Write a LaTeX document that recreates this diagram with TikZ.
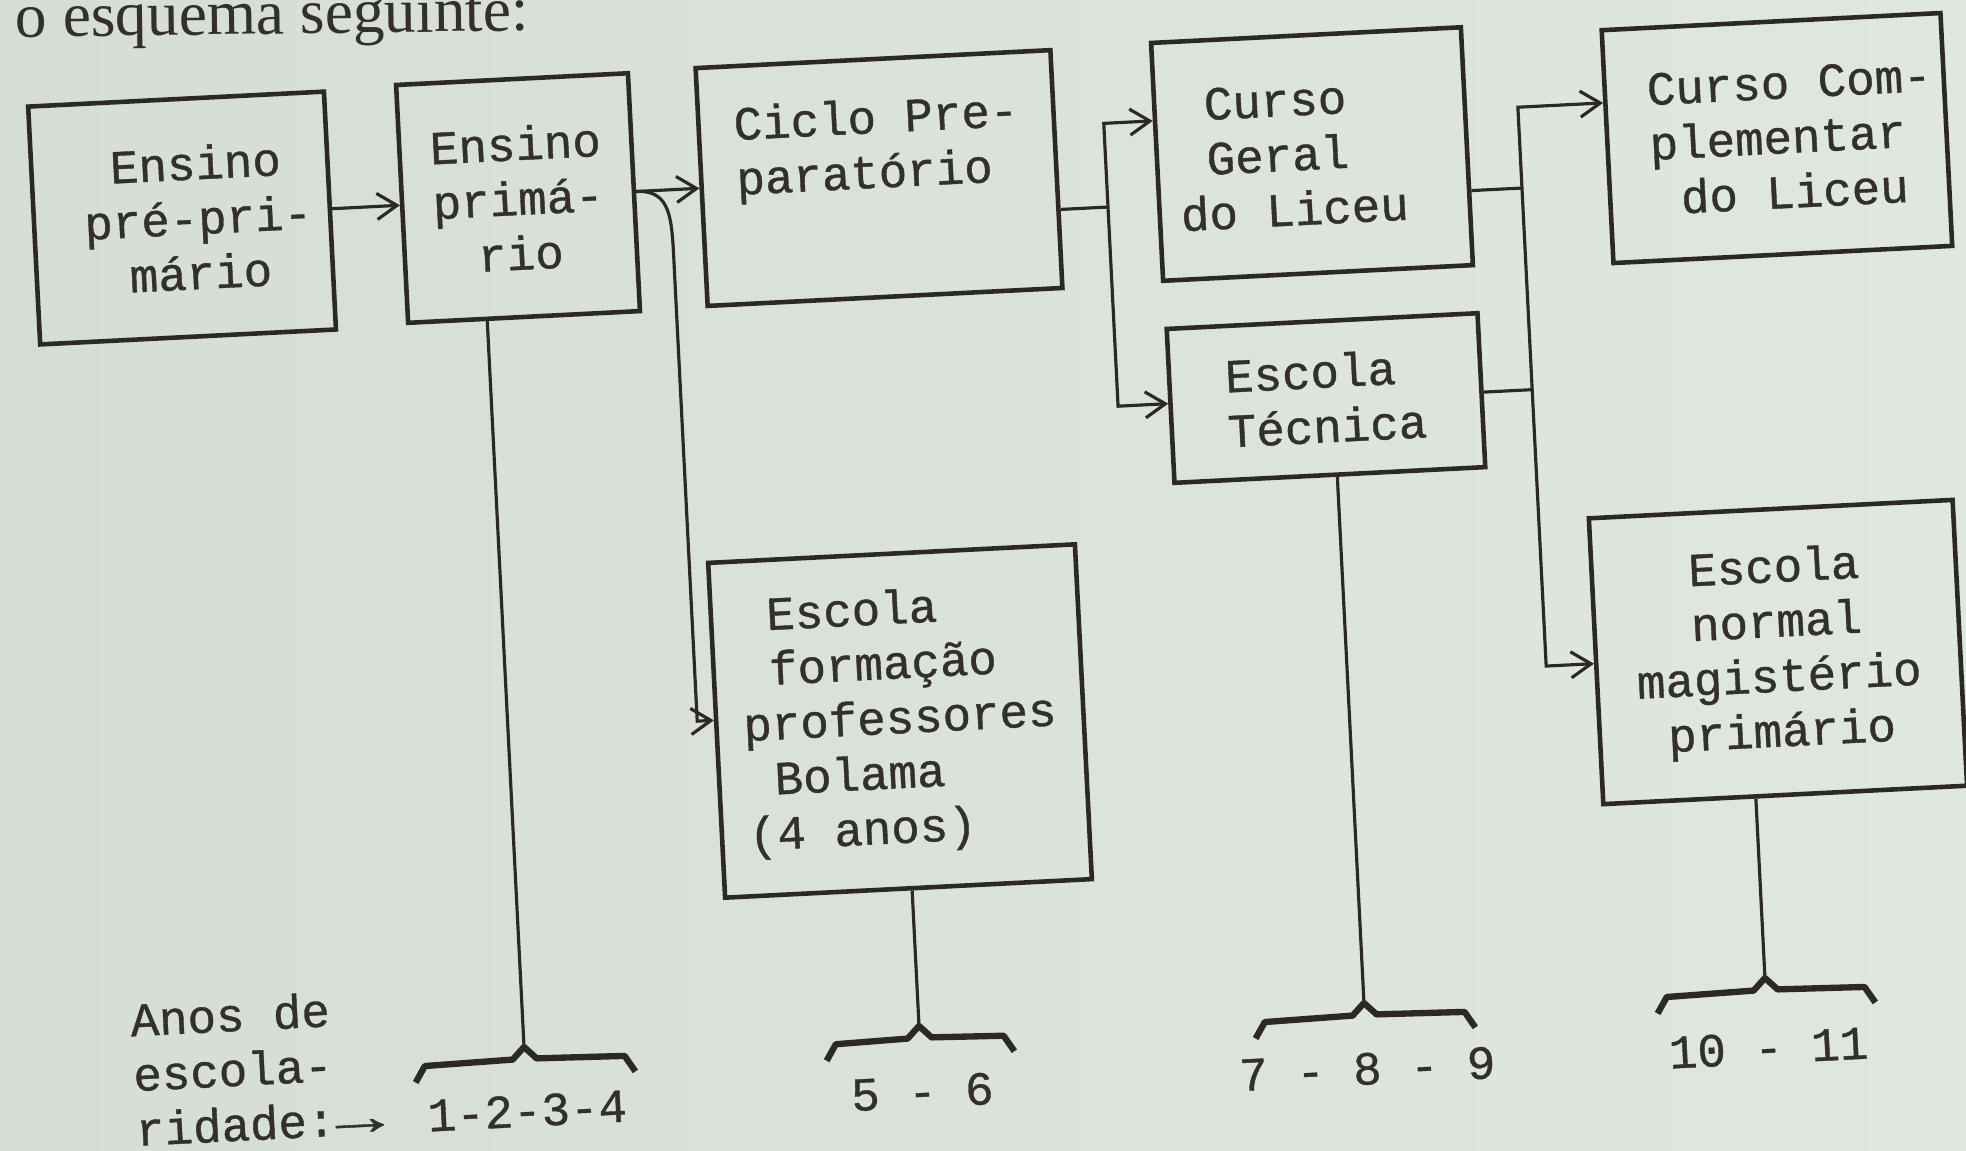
\documentclass[tikz,border=0pt]{standalone}
\usepackage{fontspec}
\newfontfamily\tw[FakeBold=0.8]{Liberation Mono}
\newfontfamily\bookserif{Liberation Serif}
\usetikzlibrary{calc,arrows.meta}
\definecolor{paperL}{HTML}{D5DDD4}
\definecolor{paperR}{HTML}{DFE7DF}
\definecolor{ink}{HTML}{2C2827}
\definecolor{inkt}{HTML}{332F2E}
\newcommand\dr[3]{\coordinate (#1) at ($(C)!1!-2.9:(#2,#3)$);}
\newcommand\brc[2]{\draw[brcstyle] ($(#1)+(-#2,30)$) -- ($(#1)+(-#2+10,14)$) -- ($(#1)+(-12,12)$) -- (#1) -- ($(#1)+(12,12)$) -- ($(#1)+(#2-10,14)$) -- ($(#1)+(#2,30)$);}
\tikzset{
  box/.style={draw=ink, line width=1.3pt, inner sep=0pt, text=inkt, font=\tw\fontsize{13.5}{15.6}\selectfont},
  conn/.style={draw=ink, line width=0.9pt},
  arr/.style={conn, -{Straight Barb[length=0.2cm,width=0.26cm,line width=0.9pt]}},
  lab/.style={text=inkt, font=\tw\fontsize{13.5}{15.6}\selectfont, inner sep=0pt},
  brcstyle/.style={draw=ink, line width=1.8pt, line join=round},
}
\begin{document}
\begin{tikzpicture}[x=0.01cm,y=-0.01cm]
\useasboundingbox (0,0) rectangle (1966,1150);
\shade[left color=paperL, right color=paperR] (0,0) rectangle (1966,1150);
\coordinate (C) at (983,575);
\node[anchor=base west, text=inkt, font=\bookserif\fontsize{18}{21}\selectfont, inner sep=0pt, rotate=0.7] (intro) at (15,37) {o esquema seguinte:};
% box centres (image frame, de-rotated)
\dr{b1}{182}{218}
\dr{b2}{518}{198}
\dr{b3}{879}{178}
\dr{b4}{1312}{154}
\dr{b5}{1326}{398}
\dr{b6}{1777}{138}
\dr{b7}{1778}{652}
\dr{b8}{900}{721}
% connector levels
\dr{a12}{365}{207}
\dr{a23}{665}{190}
\dr{v8}{686}{500}
\dr{e8}{700}{721}
\dr{j1}{1108}{207}
\dr{a34}{1130}{122}
\dr{a35}{1141}{405}
\dr{j2}{1522}{188}
\dr{l5}{1505}{391}
\dr{a46}{1561}{105}
\dr{a47}{1567}{665}
\dr{t1}{524}{1047}
\dr{t2}{919}{1026}
\dr{t3}{1364}{1003}
\dr{t4}{1765}{978}
\dr{pAnos}{257}{1068}
\begin{scope}[transform canvas={rotate around={2.9:(C)}}]
\node[box, minimum width=2.96cm, minimum height=2.38cm, align=center] (B1) at (b1) {\hspace*{0.32cm}Ensino\\\hspace*{0.32cm}pré-pri-\\\hspace*{0.32cm}mário};
\node[box, minimum width=2.32cm, minimum height=2.38cm, align=center] (B2) at (b2) {Ensino\\primá-\\rio};
\node[box, minimum width=3.55cm, minimum height=2.38cm, align=left] (B3) at (b3) {Ciclo Pre-\\paratório\\[0.15cm]\mbox{}};
\node[box, minimum width=3.10cm, minimum height=2.38cm, align=left] (B4) at (b4) {~Curso\\~Geral\\do Liceu\hspace*{0.4cm}};
\node[box, minimum width=3.11cm, minimum height=1.54cm, align=left] (B5) at (b5) {Escola\\Técnica};
\node[box, minimum width=3.39cm, minimum height=2.33cm, align=left] (B6) at (b6) {\hspace*{0.3cm}Curso Com-\\\hspace*{0.3cm}plementar\\\hspace*{0.3cm}~do Liceu};
\node[box, minimum width=3.64cm, minimum height=2.86cm, align=center] (B7) at (b7) {Escola\\normal\\magistério\\primário};
\node[box, minimum width=3.67cm, minimum height=3.35cm, align=left] (B8) at (b8) {~Escola\\~formação\\professores\hspace*{0.32cm}\\~Bolama\\(4 anos)};
% arrows
\draw[arr] (B1.east |- a12) -- (B2.west |- a12);
\draw[arr] (B2.east |- a23) -- (B3.west |- a23);
\draw[arr] (B2.east |- a23) .. controls +(36,0) and +(0,-50) .. ($(v8 |- a23)+(0,80)$) -- (v8 |- e8) -- (B8.west |- e8);
\draw[conn] (B3.east |- j1) -- (j1);
\draw[arr] (j1) -- (j1 |- a34) -- (B4.west |- a34);
\draw[arr] (j1) -- (j1 |- a35) -- (B5.west |- a35);
\draw[conn] (B4.east |- j2) -- (j2);
\draw[conn] (B5.east |- l5) -- (j2 |- l5);
\draw[arr] (j2) -- (j2 |- a46) -- (B6.west |- a46);
\draw[arr] (j2) -- (j2 |- a47) -- (B7.west |- a47);
% years
\draw[conn] (B2.south -| t1) -- (t1); \brc{t1}{110}
\draw[conn] (B8.south -| t2) -- (t2); \brc{t2}{94}
\draw[conn] (B5.south -| t3) -- (t3); \brc{t3}{110}
\draw[conn] (B7.south -| t4) -- (t4); \brc{t4}{109}
\node[lab] (L1) at ($(t1)+(0,64)$) {1-2-3-4};
\node[lab] (L2) at ($(t2)+(0,66)$) {5 - 6};
\node[lab] (L3) at ($(t3)+(0,66)$) {7 - 8 - 9};
\node[lab] (L4) at ($(t4)+(0,70)$) {10 - 11};
\node[lab, align=left] (anos) at (pAnos) {Anos de\\escola-\\ridade:\scalebox{1.7}[1.1]{→}};
\end{scope}
\end{tikzpicture}
\end{document}
